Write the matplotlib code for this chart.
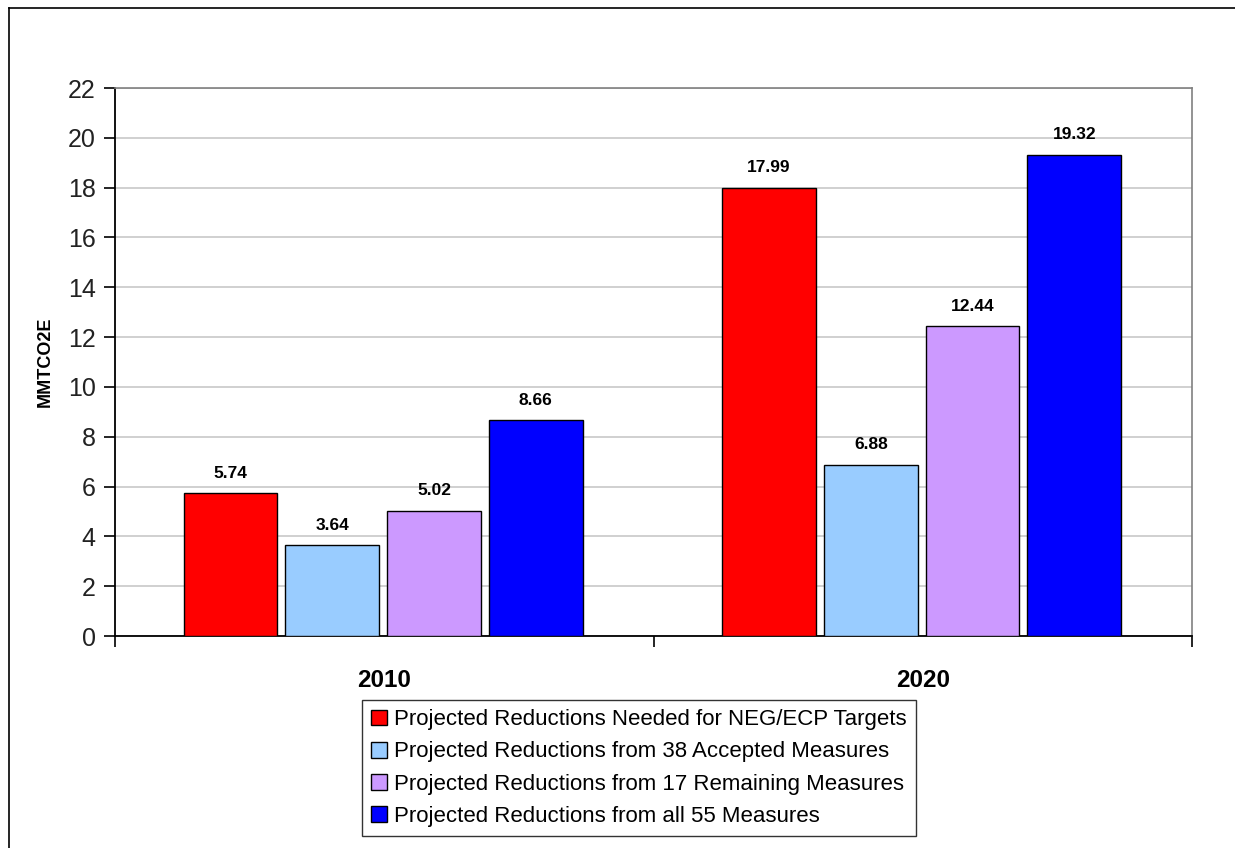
import matplotlib
matplotlib.use("Agg")
import matplotlib.pyplot as plt
from matplotlib.patches import Patch
from matplotlib.lines import Line2D
import numpy as np

plt.rcParams['font.family'] = ['Liberation Sans', 'DejaVu Sans']

categories = ["2010", "2020"]
series_names = [
    "Projected Reductions Needed for NEG/ECP Targets",
    "Projected Reductions from 38 Accepted Measures",
    "Projected Reductions from 17 Remaining Measures",
    "Projected Reductions from all 55 Measures",
]
needed = [5.74, 17.99]
accepted = [3.64, 6.88]
remaining = [5.02, 12.44]
all55 = [8.66, 19.32]
series_values = [needed, accepted, remaining, all55]
colors = ["#ff0000", "#99ccff", "#cc99ff", "#0000ff"]
yticks = [0, 2, 4, 6, 8, 10, 12, 14, 16, 18, 20, 22]

W, H = 1235, 848
fig = plt.figure(figsize=(W / 100, H / 100), dpi=100)
ax = fig.add_axes([115 / W, 1 - 636 / H, (1192 - 115) / W, (636 - 88) / H])

x = np.arange(len(categories))
slot = 0.189
bw = 0.174
for j, (vals, col, name) in enumerate(zip(series_values, colors, series_names)):
    pos = x + (j - 1.5) * slot - 0.002
    bars = ax.bar(pos, vals, width=bw, color=col, edgecolor="black", linewidth=1.0, zorder=3)
    for b, v in zip(bars, vals):
        ax.annotate(f"{v:.2f}", (b.get_x() + b.get_width() / 2, v),
                    xytext=(0, 9), textcoords="offset points",
                    ha="center", va="bottom", fontsize=12.5, fontweight="bold")

ax.set_xlim(-0.5, 1.5)
ax.set_ylim(0, 22)
ax.set_yticks(yticks)
ax.set_yticklabels([str(t) for t in yticks], fontsize=18, color="#222222")
ax.yaxis.grid(True, color="#c8c8c8", linewidth=1.2, zorder=0)
ax.set_axisbelow(True)

ax.set_xticks([-0.5, 0.5, 1.5])
ax.set_xticklabels([])
ax.set_xticks(x, minor=True)
ax.set_xticklabels(categories, minor=True, fontsize=17.5, fontweight="bold")
ax.tick_params(axis="x", which="minor", length=0, pad=24)
ax.tick_params(axis="x", which="major", length=8, width=1.2, direction="out", color="black")
ax.tick_params(axis="y", length=8, width=1.2, direction="out", color="black", pad=6)

for s in ["top", "right"]:
    ax.spines[s].set_color("#808080")
    ax.spines[s].set_linewidth(1.2)
for s in ["left", "bottom"]:
    ax.spines[s].set_color("black")
    ax.spines[s].set_linewidth(1.3)

ax.set_ylabel("MMTCO2E", fontsize=13, fontweight="bold", labelpad=10)

handles = [Patch(facecolor=c, edgecolor="black", linewidth=1.0) for c in colors]
leg = fig.legend(handles, series_names, loc="upper left",
                 bbox_to_anchor=(362 / W, 1 - 700 / H), borderaxespad=0,
                 fontsize=16, frameon=True, fancybox=False, shadow=False,
                 handlelength=0.72, handleheight=0.72, handletextpad=0.3,
                 labelspacing=0.5, borderpad=0.42)
leg.get_frame().set_edgecolor("black")
leg.get_frame().set_linewidth(1.0)

fig.add_artist(Line2D([8.5 / W, 8.5 / W], [0, 1 - 7.5 / H], color="black", linewidth=1.2, transform=fig.transFigure))
fig.add_artist(Line2D([8.5 / W, 1], [1 - 7.5 / H, 1 - 7.5 / H], color="black", linewidth=1.2, transform=fig.transFigure))

fig.savefig("out.png", dpi=100)
